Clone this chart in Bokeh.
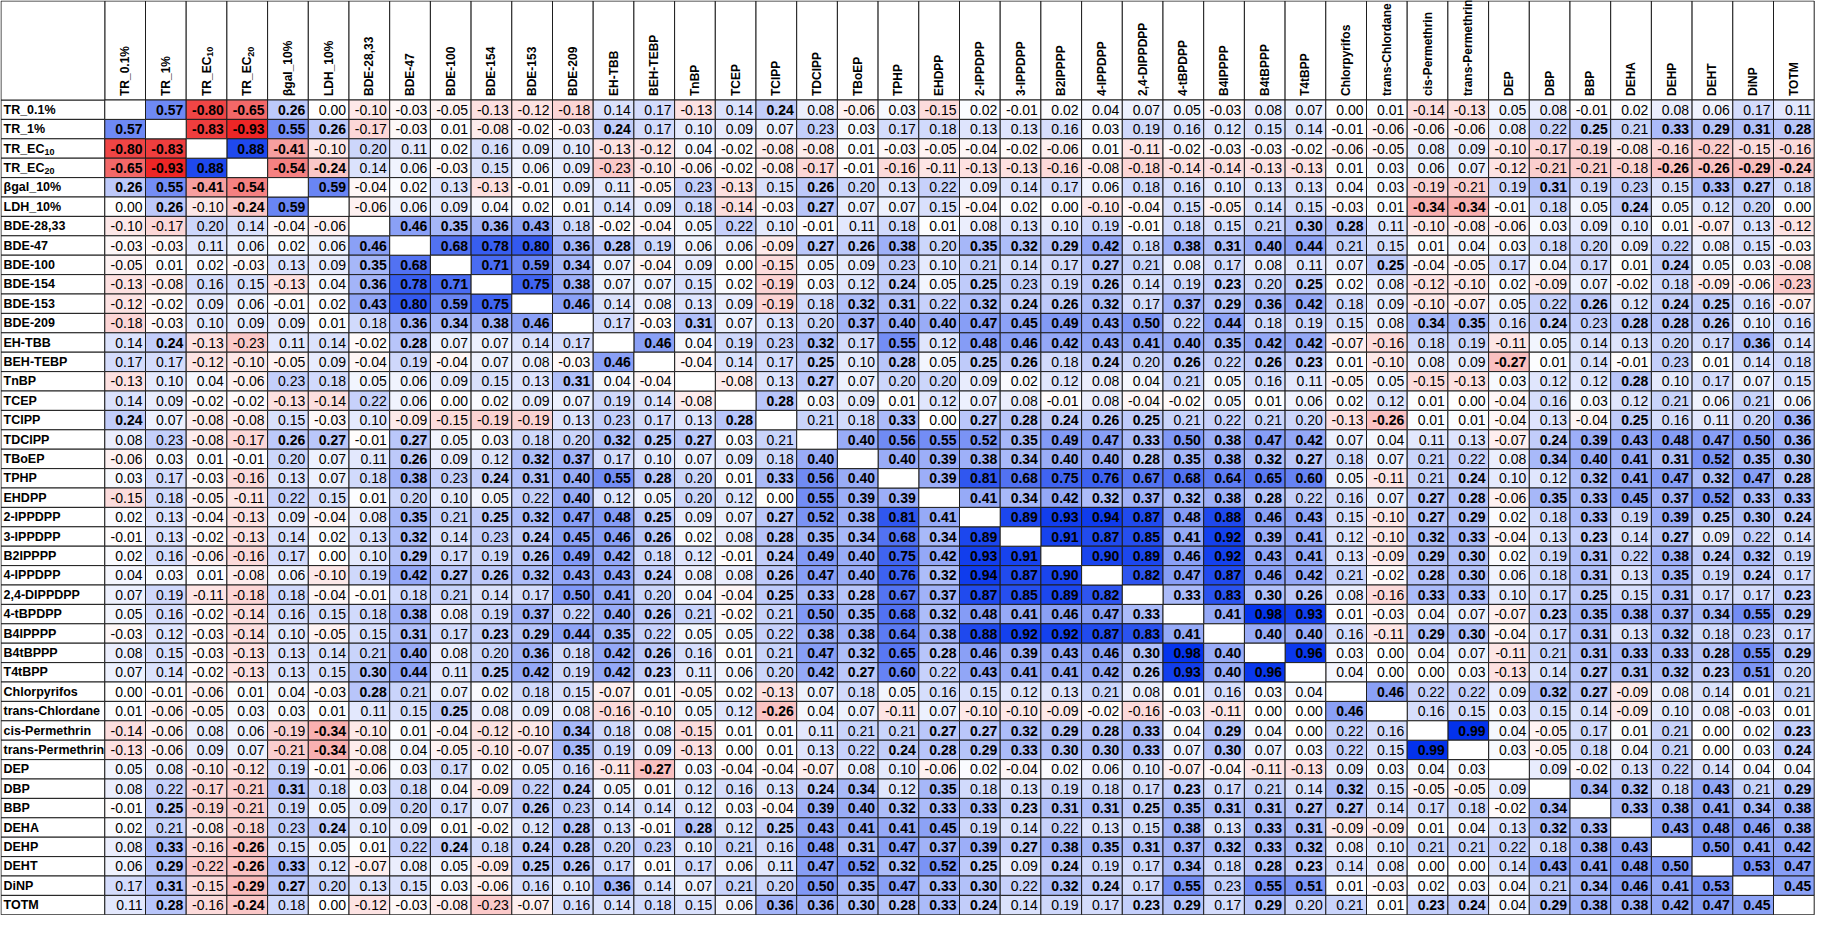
import numpy as np
from bokeh.plotting import figure
from bokeh.models import Range1d, ColumnDataSource, LinearColorMapper
from bokeh.transform import transform
from bokeh.core.properties import value
from bokeh.embed import file_html
from bokeh.resources import INLINE

labels = ["TR_0.1%", "TR_1%", "TR_EC10", "TR_EC20", "βgal_10%", "LDH_10%", "BDE-28,33", "BDE-47",
          "BDE-100", "BDE-154", "BDE-153", "BDE-209", "EH-TBB", "BEH-TEBP", "TnBP", "TCEP", "TCIPP",
          "TDCIPP", "TBoEP", "TPHP", "EHDPP", "2-IPPDPP", "3-IPPDPP", "B2IPPPP", "4-IPPDPP",
          "2,4-DIPPDPP", "4-tBPDPP", "B4IPPPP", "B4tBPPP", "T4tBPP", "Chlorpyrifos", "trans-Chlordane",
          "cis-Permethrin", "trans-Permethrin", "DEP", "DBP", "BBP", "DEHA", "DEHP", "DEHT", "DiNP", "TOTM"]

# label parts for subscripted names
label_main = {"TR_EC10": "TR_EC", "TR_EC20": "TR_EC"}
label_sub = {"TR_EC10": "10", "TR_EC20": "20"}

# upper triangle of the correlation matrix: row i holds columns i+1 .. 41
upper_vals = [
    [0.57, -0.80, -0.65, 0.26, 0.00, -0.10, -0.03, -0.05, -0.13, -0.12, -0.18, 0.14, 0.17, -0.13, 0.14, 0.24, 0.08, -0.06, 0.03, -0.15, 0.02, -0.01, 0.02, 0.04, 0.07, 0.05, -0.03, 0.08, 0.07, 0.00, 0.01, -0.14, -0.13, 0.05, 0.08, -0.01, 0.02, 0.08, 0.06, 0.17, 0.11],
    [-0.83, -0.93, 0.55, 0.26, -0.17, -0.03, 0.01, -0.08, -0.02, -0.03, 0.24, 0.17, 0.10, 0.09, 0.07, 0.23, 0.03, 0.17, 0.18, 0.13, 0.13, 0.16, 0.03, 0.19, 0.16, 0.12, 0.15, 0.14, -0.01, -0.06, -0.06, -0.06, 0.08, 0.22, 0.25, 0.21, 0.33, 0.29, 0.31, 0.28],
    [0.88, -0.41, -0.10, 0.20, 0.11, 0.02, 0.16, 0.09, 0.10, -0.13, -0.12, 0.04, -0.02, -0.08, -0.08, 0.01, -0.03, -0.05, -0.04, -0.02, -0.06, 0.01, -0.11, -0.02, -0.03, -0.03, -0.02, -0.06, -0.05, 0.08, 0.09, -0.10, -0.17, -0.19, -0.08, -0.16, -0.22, -0.15, -0.16],
    [-0.54, -0.24, 0.14, 0.06, -0.03, 0.15, 0.06, 0.09, -0.23, -0.10, -0.06, -0.02, -0.08, -0.17, -0.01, -0.16, -0.11, -0.13, -0.13, -0.16, -0.08, -0.18, -0.14, -0.14, -0.13, -0.13, 0.01, 0.03, 0.06, 0.07, -0.12, -0.21, -0.21, -0.18, -0.26, -0.26, -0.29, -0.24],
    [0.59, -0.04, 0.02, 0.13, -0.13, -0.01, 0.09, 0.11, -0.05, 0.23, -0.13, 0.15, 0.26, 0.20, 0.13, 0.22, 0.09, 0.14, 0.17, 0.06, 0.18, 0.16, 0.10, 0.13, 0.13, 0.04, 0.03, -0.19, -0.21, 0.19, 0.31, 0.19, 0.23, 0.15, 0.33, 0.27, 0.18],
    [-0.06, 0.06, 0.09, 0.04, 0.02, 0.01, 0.14, 0.09, 0.18, -0.14, -0.03, 0.27, 0.07, 0.07, 0.15, -0.04, 0.02, 0.00, -0.10, -0.04, 0.15, -0.05, 0.14, 0.15, -0.03, 0.01, -0.34, -0.34, -0.01, 0.18, 0.05, 0.24, 0.05, 0.12, 0.20, 0.00],
    [0.46, 0.35, 0.36, 0.43, 0.18, -0.02, -0.04, 0.05, 0.22, 0.10, -0.01, 0.11, 0.18, 0.01, 0.08, 0.13, 0.10, 0.19, -0.01, 0.18, 0.15, 0.21, 0.30, 0.28, 0.11, -0.10, -0.08, -0.06, 0.03, 0.09, 0.10, 0.01, -0.07, 0.13, -0.12],
    [0.68, 0.78, 0.80, 0.36, 0.28, 0.19, 0.06, 0.06, -0.09, 0.27, 0.26, 0.38, 0.20, 0.35, 0.32, 0.29, 0.42, 0.18, 0.38, 0.31, 0.40, 0.44, 0.21, 0.15, 0.01, 0.04, 0.03, 0.18, 0.20, 0.09, 0.22, 0.08, 0.15, -0.03],
    [0.71, 0.59, 0.34, 0.07, -0.04, 0.09, 0.00, -0.15, 0.05, 0.09, 0.23, 0.10, 0.21, 0.14, 0.17, 0.27, 0.21, 0.08, 0.17, 0.08, 0.11, 0.07, 0.25, -0.04, -0.05, 0.17, 0.04, 0.17, 0.01, 0.24, 0.05, 0.03, -0.08],
    [0.75, 0.38, 0.07, 0.07, 0.15, 0.02, -0.19, 0.03, 0.12, 0.24, 0.05, 0.25, 0.23, 0.19, 0.26, 0.14, 0.19, 0.23, 0.20, 0.25, 0.02, 0.08, -0.12, -0.10, 0.02, -0.09, 0.07, -0.02, 0.18, -0.09, -0.06, -0.23],
    [0.46, 0.14, 0.08, 0.13, 0.09, -0.19, 0.18, 0.32, 0.31, 0.22, 0.32, 0.24, 0.26, 0.32, 0.17, 0.37, 0.29, 0.36, 0.42, 0.18, 0.09, -0.10, -0.07, 0.05, 0.22, 0.26, 0.12, 0.24, 0.25, 0.16, -0.07],
    [0.17, -0.03, 0.31, 0.07, 0.13, 0.20, 0.37, 0.40, 0.40, 0.47, 0.45, 0.49, 0.43, 0.50, 0.22, 0.44, 0.18, 0.19, 0.15, 0.08, 0.34, 0.35, 0.16, 0.24, 0.23, 0.28, 0.28, 0.26, 0.10, 0.16],
    [0.46, 0.04, 0.19, 0.23, 0.32, 0.17, 0.55, 0.12, 0.48, 0.46, 0.42, 0.43, 0.41, 0.40, 0.35, 0.42, 0.42, -0.07, -0.16, 0.18, 0.19, -0.11, 0.05, 0.14, 0.13, 0.20, 0.17, 0.36, 0.14],
    [-0.04, 0.14, 0.17, 0.25, 0.10, 0.28, 0.05, 0.25, 0.26, 0.18, 0.24, 0.20, 0.26, 0.22, 0.26, 0.23, 0.01, -0.10, 0.08, 0.09, -0.27, 0.01, 0.14, -0.01, 0.23, 0.01, 0.14, 0.18],
    [-0.08, 0.13, 0.27, 0.07, 0.20, 0.20, 0.09, 0.02, 0.12, 0.08, 0.04, 0.21, 0.05, 0.16, 0.11, -0.05, 0.05, -0.15, -0.13, 0.03, 0.12, 0.12, 0.28, 0.10, 0.17, 0.07, 0.15],
    [0.28, 0.03, 0.09, 0.01, 0.12, 0.07, 0.08, -0.01, 0.08, -0.04, -0.02, 0.05, 0.01, 0.06, 0.02, 0.12, 0.01, 0.00, -0.04, 0.16, 0.03, 0.12, 0.21, 0.06, 0.21, 0.06],
    [0.21, 0.18, 0.33, 0.00, 0.27, 0.28, 0.24, 0.26, 0.25, 0.21, 0.22, 0.21, 0.20, -0.13, -0.26, 0.01, 0.01, -0.04, 0.13, -0.04, 0.25, 0.16, 0.11, 0.20, 0.36],
    [0.40, 0.56, 0.55, 0.52, 0.35, 0.49, 0.47, 0.33, 0.50, 0.38, 0.47, 0.42, 0.07, 0.04, 0.11, 0.13, -0.07, 0.24, 0.39, 0.43, 0.48, 0.47, 0.50, 0.36],
    [0.40, 0.39, 0.38, 0.34, 0.40, 0.40, 0.28, 0.35, 0.38, 0.32, 0.27, 0.18, 0.07, 0.21, 0.22, 0.08, 0.34, 0.40, 0.41, 0.31, 0.52, 0.35, 0.30],
    [0.39, 0.81, 0.68, 0.75, 0.76, 0.67, 0.68, 0.64, 0.65, 0.60, 0.05, -0.11, 0.21, 0.24, 0.10, 0.12, 0.32, 0.41, 0.47, 0.32, 0.47, 0.28],
    [0.41, 0.34, 0.42, 0.32, 0.37, 0.32, 0.38, 0.28, 0.22, 0.16, 0.07, 0.27, 0.28, -0.06, 0.35, 0.33, 0.45, 0.37, 0.52, 0.33, 0.33],
    [0.89, 0.93, 0.94, 0.87, 0.48, 0.88, 0.46, 0.43, 0.15, -0.10, 0.27, 0.29, 0.02, 0.18, 0.33, 0.19, 0.39, 0.25, 0.30, 0.24],
    [0.91, 0.87, 0.85, 0.41, 0.92, 0.39, 0.41, 0.12, -0.10, 0.32, 0.33, -0.04, 0.13, 0.23, 0.14, 0.27, 0.09, 0.22, 0.14],
    [0.90, 0.89, 0.46, 0.92, 0.43, 0.41, 0.13, -0.09, 0.29, 0.30, 0.02, 0.19, 0.31, 0.22, 0.38, 0.24, 0.32, 0.19],
    [0.82, 0.47, 0.87, 0.46, 0.42, 0.21, -0.02, 0.28, 0.30, 0.06, 0.18, 0.31, 0.13, 0.35, 0.19, 0.24, 0.17],
    [0.33, 0.83, 0.30, 0.26, 0.08, -0.16, 0.33, 0.33, 0.10, 0.17, 0.25, 0.15, 0.31, 0.17, 0.17, 0.23],
    [0.41, 0.98, 0.93, 0.01, -0.03, 0.04, 0.07, -0.07, 0.23, 0.35, 0.38, 0.37, 0.34, 0.55, 0.29],
    [0.40, 0.40, 0.16, -0.11, 0.29, 0.30, -0.04, 0.17, 0.31, 0.13, 0.32, 0.18, 0.23, 0.17],
    [0.96, 0.03, 0.00, 0.04, 0.07, -0.11, 0.21, 0.31, 0.33, 0.33, 0.28, 0.55, 0.29],
    [0.04, 0.00, 0.00, 0.03, -0.13, 0.14, 0.27, 0.31, 0.32, 0.23, 0.51, 0.20],
    [0.46, 0.22, 0.22, 0.09, 0.32, 0.27, -0.09, 0.08, 0.14, 0.01, 0.21],
    [0.16, 0.15, 0.03, 0.15, 0.14, -0.09, 0.10, 0.08, -0.03, 0.01],
    [0.99, 0.04, -0.05, 0.17, 0.01, 0.21, 0.00, 0.02, 0.23],
    [0.03, -0.05, 0.18, 0.04, 0.21, 0.00, 0.03, 0.24],
    [0.09, -0.02, 0.13, 0.22, 0.14, 0.04, 0.04],
    [0.34, 0.32, 0.18, 0.43, 0.21, 0.29],
    [0.33, 0.38, 0.41, 0.34, 0.38],
    [0.43, 0.48, 0.46, 0.38],
    [0.50, 0.41, 0.42],
    [0.53, 0.47],
    [0.45],
]

# significant (bold) entries: for row i, the column indices (> i) printed in bold
R = lambda a, b: list(range(a, b + 1))
bold_cols = [
    [1, 2, 3, 4, 16],
    [2, 3, 4, 5, 12, 36, 38, 39, 40, 41],
    [3, 4],
    [4, 5, 38, 39, 40, 41],
    [5, 17, 35, 39, 40],
    [17, 32, 33, 37],
    [7, 8, 9, 10, 29, 30],
    [8, 9, 10, 11, 12, 17, 18, 19, 21, 22, 23, 24, 26, 27, 28, 29],
    [9, 10, 11, 24, 31, 38],
    [10, 11, 19, 21, 24, 27, 29],
    [11, 18, 19, 21, 22, 23, 24, 26, 27, 28, 29, 36, 38, 39],
    [14, 18, 19, 20, 21, 22, 23, 24, 25, 27, 32, 33, 35, 37, 38, 39],
    [13, 17, 19, 21, 22, 23, 24, 25, 26, 27, 28, 29, 40],
    [17, 19, 21, 22, 24, 26, 28, 29, 34],
    [17, 37],
    [16],
    [19, 21, 22, 23, 24, 25, 31, 37, 41],
    R(18, 29) + R(35, 41),
    R(19, 29) + R(35, 41),
    R(20, 29) + [33] + R(36, 41),
    R(21, 28) + [32, 33] + R(35, 41),
    R(22, 29) + [32, 33, 36, 38, 39, 40, 41],
    R(23, 29) + [32, 33, 36, 38],
    R(24, 29) + [32, 33, 36, 38, 39, 40],
    R(25, 29) + [32, 33, 36, 38, 40],
    R(26, 29) + [32, 33, 36, 38, 41],
    [27, 28, 29] + R(35, 41),
    [28, 29, 32, 33, 36, 38],
    [29] + R(36, 41),
    R(36, 40),
    [31, 35, 36],
    [],
    [33, 41],
    [41],
    [],
    [36, 37, 39, 41],
    R(37, 41),
    R(38, 41),
    R(39, 41),
    [40, 41],
    [41],
]

# ---------------- build full symmetric matrix ----------------
n = len(labels)
M = np.full((n, n), np.nan)
B = np.zeros((n, n), dtype=bool)
for i, row in enumerate(upper_vals):
    for k, v in enumerate(row):
        j = i + 1 + k
        if j < n:
            M[i, j] = v
            M[j, i] = v
for i, cols in enumerate(bold_cols):
    for j in cols:
        B[i, j] = True
        B[j, i] = True

# ---------------- geometry (cell units) ----------------
CW, RH = 40.7, 19.4          # pixel size of one cell
W, H = 1825, 915
col0_px, row0_px = 104.3, 99.5
x_start = -col0_px / CW
y_top = -row0_px / RH
x_end = x_start + W / CW
y_bottom = y_top + H / RH
x_left = x_start + 0.5 / CW   # left edge of table
y_head = y_top + 0.5 / RH     # top edge of header

# ---------------- colour scale ----------------
neg_end = (236, 22, 22)
pos_end = (0, 48, 236)
def mix(c, t):
    return "#%02x%02x%02x" % tuple(int(round(255 + (ce - 255) * t)) for ce in c)
palette = []
for k in range(201):
    v = -1 + k / 100.0
    palette.append(mix(neg_end, -v) if v < 0 else mix(pos_end, v))
mapper = LinearColorMapper(palette=palette, low=-1.0, high=1.0)

# ---------------- sources ----------------
cells = dict(x0=[], x1=[], y0=[], y1=[], r=[])
txt_b = dict(x=[], y=[], t=[])
txt_n = dict(x=[], y=[], t=[])
diag = dict(x0=[], x1=[], y0=[], y1=[])
for i in range(n):
    for j in range(n):
        if i == j:
            diag["x0"].append(j); diag["x1"].append(j + 1)
            diag["y0"].append(i); diag["y1"].append(i + 1)
            continue
        v = M[i, j]
        cells["x0"].append(j); cells["x1"].append(j + 1)
        cells["y0"].append(i); cells["y1"].append(i + 1)
        cells["r"].append(v)
        d = txt_b if B[i, j] else txt_n
        d["x"].append(j + 1 - 3.0 / CW)
        d["y"].append(i + 0.5)
        d["t"].append("%.2f" % v)

p = figure(width=W, height=H, x_range=Range1d(x_start, x_end), y_range=Range1d(y_bottom, y_top),
           output_backend="svg", toolbar_location=None, x_axis_location=None, y_axis_location=None,
           min_border=0, tools="")
p.grid.visible = False
p.outline_line_color = None
p.background_fill_color = "white"
p.border_fill_color = "white"

LINE = "#1e1e1e"
FONT = value("Liberation Sans")

# header cells, row-label cells, corner
p.quad(left=list(range(n)), right=[j + 1 for j in range(n)], top=[y_head] * n, bottom=[0] * n,
       fill_color="white", line_color=LINE, line_width=1)
p.quad(left=[x_left] * n, right=[0] * n, top=list(range(n)), bottom=[i + 1 for i in range(n)],
       fill_color="white", line_color=LINE, line_width=1)
p.quad(left=[x_left], right=[0], top=[y_head], bottom=[0], fill_color="white", line_color=LINE, line_width=1)

# data cells
p.quad(left="x0", right="x1", top="y0", bottom="y1", source=ColumnDataSource(cells),
       fill_color=transform("r", mapper), line_color=LINE, line_width=1)
p.quad(left="x0", right="x1", top="y0", bottom="y1", source=ColumnDataSource(diag),
       fill_color="white", line_color=LINE, line_width=1)

VAL_SIZE = "14px"
p.text(x="x", y="y", text="t", source=ColumnDataSource(txt_n), text_font=FONT, text_font_size=VAL_SIZE,
       text_align="right", text_baseline="middle", text_color="black")
p.text(x="x", y="y", text="t", source=ColumnDataSource(txt_b), text_font=FONT, text_font_size=VAL_SIZE,
       text_font_style="bold", text_align="right", text_baseline="middle", text_color="black")

# row and column labels
LAB_SIZE = 12.5
HEAD_SIZE = 12
main_txt = [label_main.get(l, l) for l in labels]
lab_x = x_left + 2.5 / CW
p.text(x=[lab_x] * n, y=[i + 0.5 for i in range(n)], text=main_txt, text_font=FONT,
       text_font_size="%gpx" % LAB_SIZE, text_font_style="bold", text_align="left",
       text_baseline="middle", text_color="black")
head_y = -4.0 / RH
p.text(x=[j + 0.5 for j in range(n)], y=[head_y] * n, text=main_txt, angle=np.pi / 2, text_font=FONT,
       text_font_size="%gpx" % HEAD_SIZE, text_font_style="bold", text_align="left",
       text_baseline="middle", text_color="black")

# subscripts
sub_idx = [i for i, l in enumerate(labels) if l in label_sub]
row_w = 3.278 * LAB_SIZE    # width of "TR_EC" in Liberation Sans Bold
head_w = 3.278 * HEAD_SIZE
p.text(x=[lab_x + row_w / CW] * len(sub_idx), y=[i + 0.5 + 3.5 / RH for i in sub_idx],
       text=[label_sub[labels[i]] for i in sub_idx], text_font=FONT, text_font_size="9px",
       text_font_style="bold", text_align="left", text_baseline="middle", text_color="black")
p.text(x=[j + 0.5 + 3.5 / CW for j in sub_idx], y=[head_y - head_w / RH] * len(sub_idx),
       text=[label_sub[labels[j]] for j in sub_idx], angle=np.pi / 2, text_font=FONT, text_font_size="9px",
       text_font_style="bold", text_align="left", text_baseline="middle", text_color="black")

open("out.html", "w").write(file_html(p, INLINE))
